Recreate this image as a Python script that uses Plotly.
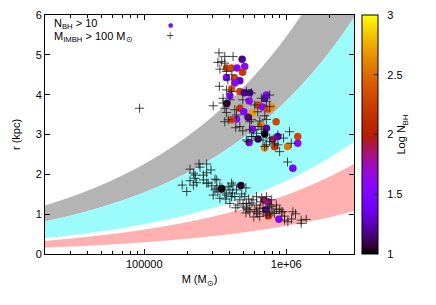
import math
import numpy as np
import plotly.graph_objects as go

# ---------------- data ----------------
# Models with N_BH > 10 : cluster mass (Msun), galactocentric radius (kpc), log N_BH
circ_M = [4.89e5, 3.79e5, 4.12e5, 4.50e5, 5.10e5, 4.92e5, 3.79e5, 4.34e5, 4.71e5, 4.34e5,
          4.12e5, 4.71e5, 5.06e5, 5.53e5, 7.25e5, 4.01e5, 5.48e5, 7.05e5, 3.81e5, 6.30e5,
          6.82e5, 7.43e5, 7.89e5, 4.71e5, 5.02e5, 5.78e5, 5.38e5, 4.46e5, 4.12e5, 8.48e5,
          6.68e5, 5.78e5, 7.25e5, 7.05e5, 6.33e5, 8.06e5, 8.73e5, 1.205e6, 1.205e6, 5.48e5,
          7.05e5, 8.28e5, 1.021e6, 1.113e6, 3.51e5, 4.79e5, 7.00e5, 7.46e5, 7.16e5, 7.50e5,
          8.88e5]
circ_r = [4.89, 4.67, 4.67, 4.67, 4.71, 4.56, 4.43, 4.41, 4.35, 4.29,
          4.15, 4.08, 4.05, 4.05, 3.99, 3.97, 3.84, 3.91, 3.78, 3.74,
          3.69, 3.64, 3.69, 3.66, 3.57, 3.54, 3.43, 3.39, 3.37, 3.32,
          3.23, 3.13, 3.16, 3.01, 2.89, 2.88, 2.95, 2.95, 2.78, 2.80,
          2.66, 2.69, 2.70, 2.15, 1.64, 1.72, 1.34, 1.31, 1.11, 0.96,
          0.87]
circ_logN = [1.2, 2.25, 2.3, 1.55, 1.6, 2.2, 1.5, 2.3, 1.3, 1.55,
             2.35, 2.25, 1.2, 1.25, 1.55, 1.5, 1.6, 1.3, 1.05, 2.25,
             1.55, 2.3, 2.65, 2.2, 1.5, 2.7, 1.2, 1.6, 2.25, 2.3,
             2.6, 1.55, 1.25, 1.0, 1.1, 1.9, 1.3, 2.3, 1.6, 1.55,
             2.65, 2.25, 2.55, 1.45, 1.0, 1.05, 1.9, 1.8, 1.3, 2.15,
             1.55]

# Models with M_IMBH > 100 Msun : cluster mass (Msun), radius (kpc)
cross_M = [9.27e4, 3.36e5, 3.69e5, 4.22e5, 3.51e5, 3.69e5, 3.30e5, 3.41e5, 3.79e5, 3.38e5,
           3.79e5, 4.12e5, 5.24e5, 5.69e5, 3.59e5, 4.01e5, 6.68e5, 7.25e5, 3.06e5, 3.69e5,
           4.34e5, 3.79e5, 7.05e5, 5.53e5, 7.25e5, 3.90e5, 4.71e5, 5.53e5, 6.33e5, 6.68e5,
           5.84e5, 5.24e5, 6.86e5, 7.64e5, 1.055e6, 8.73e5, 7.05e5, 8.28e5, 3.59e5, 4.46e5,
           6.00e5, 7.64e5, 7.64e5, 5.69e5, 6.17e5, 5.69e5, 5.38e5, 7.64e5, 8.73e5, 8.98e5,
           7.25e5, 1.021e6, 1.085e6, 4.14e5, 3.88e5, 6.30e5, 4.94e5, 4.41e5, 6.50e5, 9.57e5,
           3.69e5, 4.94e5,
           2.10e5, 2.47e5, 2.22e5, 2.75e5, 2.28e5, 2.10e5, 2.61e5, 2.82e5, 1.99e5, 2.34e5,
           3.24e5, 3.24e5, 3.41e5, 3.79e5, 4.01e5, 4.22e5, 4.34e5, 4.46e5, 4.01e5, 4.71e5,
           5.10e5, 5.24e5, 5.84e5, 6.00e5, 5.38e5, 7.25e5, 6.86e5, 7.64e5, 8.51e5, 8.06e5,
           7.25e5, 6.50e5, 9.24e5, 1.026e6, 1.113e6, 1.274e6, 1.382e6, 2.61e5, 3.15e5, 3.69e5,
           3.90e5, 4.12e5, 4.96e5, 5.53e5, 6.17e5, 6.50e5, 7.85e5, 8.98e5, 8.28e5, 9.46e5,
           1.162e6, 1.274e6, 5.53e5, 6.17e5, 5.24e5, 2.28e5, 2.22e5, 2.75e5, 3.15e5, 3.41e5,
           4.12e5, 2.99e5, 3.30e5, 3.53e5, 3.75e5, 4.18e5, 4.56e5, 4.86e5, 5.02e5, 5.44e5,
           5.72e5, 6.20e5, 6.61e5, 6.94e5, 7.41e5, 6.30e5, 5.91e5, 7.64e5, 8.55e5, 9.73e5,
           1.09e6, 2.43e5, 2.95e5, 1.85e5, 3.06e5, 4.41e5, 6.72e5, 5.20e5, 7.89e5, 9.73e5,
           2.75e5, 5.20e5]
cross_r = [3.66, 5.05, 4.96, 4.96, 4.83, 4.79, 4.81, 4.64, 4.58, 4.21,
           4.12, 4.08, 4.08, 4.04, 3.91, 3.87, 3.91, 3.83, 3.72, 3.66,
           3.62, 3.55, 3.47, 3.32, 3.38, 3.37, 3.20, 3.12, 3.20, 3.13,
           2.95, 2.86, 2.86, 2.91, 3.07, 2.99, 2.70, 2.78, 3.79, 3.49,
           3.74, 3.99, 3.70, 3.37, 3.03, 2.95, 2.82, 2.82, 2.74, 2.57,
           2.74, 2.31, 2.78, 4.50, 4.37, 3.57, 3.87, 3.17, 3.34, 2.91,
           3.32, 3.09,
           2.13, 2.18, 2.03, 2.04, 1.90, 1.84, 1.86, 1.78, 1.57, 1.79,
           1.86, 1.65, 1.40, 1.48, 1.61, 1.73, 1.44, 1.61, 1.27, 1.36,
           1.44, 1.27, 1.36, 1.11, 1.11, 1.44, 1.15, 1.23, 1.23, 1.06,
           0.98, 0.94, 1.06, 0.81, 1.06, 0.85, 0.87, 1.98, 1.61, 1.53,
           1.69, 1.44, 1.27, 1.23, 1.44, 1.15, 1.19, 1.11, 1.02, 1.06,
           1.01, 0.77, 1.06, 1.06, 1.15, 1.98, 1.73, 1.78, 1.88, 1.71,
           1.78, 1.71, 1.56, 1.66, 1.38, 1.53, 1.23, 1.51, 1.18, 1.38,
           1.28, 1.23, 1.31, 1.06, 1.16, 1.01, 0.93, 1.03, 1.13, 0.95,
           0.88, 2.26, 2.11, 1.73, 1.48, 1.16, 1.41, 1.03, 1.36, 0.85,
           2.26, 1.66]

# Shaded model bands: r = a * (M / M_ref)^b, [a, b] for (upper, lower) edges
band_names = ["gray", "cyan", "pink"]
band_upper = [[1.22, 0.383], [0.82, 0.395], [0.33, 0.384]]
band_lower = [[0.82, 0.395], [0.40, 0.390], [0.16, 0.380]]
band_colors = ["#b4b4b4", "#9cfcfc", "#ffb0b0"]
M_ref = 2e4

x_range = [2e4, 3e6]
y_range = [0, 6]
x_tickvals = [1e5, 1e6]
x_ticktext = ["100000", "1e+06"]
cb_tickvals = [1, 1.5, 2, 2.5, 3]
cb_ticktext = ["\u00a0\u00a01", "\u00a0\u00a01.5", "\u00a0\u00a02", "\u00a0\u00a02.5", "\u00a0\u00a03"]


# gnuplot default palette (rgbformulae 7,5,15)
def gp_color(t):
    r = math.sqrt(t)
    g = t ** 3
    b = max(0.0, math.sin(2 * math.pi * t))
    return "rgb(%d,%d,%d)" % (round(255 * r), round(255 * g), round(255 * b))


colorscale = [[i / 40, gp_color(i / 40)] for i in range(41)]

FONT = "Liberation Sans, Arial, sans-serif"
CROSS = "rgba(25,25,25,0.8)"
fig = go.Figure()

Mgrid = np.logspace(math.log10(x_range[0]), math.log10(x_range[1]), 300)
for name, up, lo, col in zip(band_names, band_upper, band_lower, band_colors):
    top = up[0] * (Mgrid / M_ref) ** up[1]
    bot = lo[0] * (Mgrid / M_ref) ** lo[1]
    fig.add_trace(go.Scatter(
        x=np.concatenate([Mgrid, Mgrid[::-1]]),
        y=np.concatenate([top, bot[::-1]]),
        fill="toself", fillcolor=col, mode="none", hoverinfo="skip",
        showlegend=False, name=name))

fig.add_trace(go.Scatter(
    x=circ_M, y=circ_r, mode="markers", showlegend=False,
    marker=dict(size=7.5, color=circ_logN, cmin=1, cmax=3, colorscale=colorscale,
                line=dict(width=0),
                colorbar=dict(
                    x=(362 - 45) / 309, xanchor="left", xpad=0, ypad=0,
                    y=0.5, yanchor="middle", len=1, lenmode="fraction",
                    thickness=16, thicknessmode="pixels",
                    outlinewidth=1, outlinecolor="black",
                    ticks="inside", ticklen=4, tickcolor="black",
                    tickvals=cb_tickvals, ticktext=cb_ticktext,
                    tickfont=dict(size=11, color="black", family=FONT),
                    title=dict(text="Log N<sub>BH</sub>", side="right",
                               font=dict(size=11, color="black", family=FONT)),
                ))))

fig.add_trace(go.Scatter(
    x=cross_M, y=cross_r, mode="markers", showlegend=False,
    marker=dict(symbol="cross-thin-open", size=6.5, color=CROSS,
                line=dict(width=1, color=CROSS))))

minor_vals = [k * 10 ** e for e in (4, 5, 6) for k in range(2, 10)]

fig.update_xaxes(type="log", range=[math.log10(x_range[0]), math.log10(x_range[1])],
                 showline=True, linecolor="black", linewidth=1, mirror="ticks",
                 ticks="inside", ticklen=5, tickcolor="black",
                 tickvals=x_tickvals, ticktext=x_ticktext,
                 minor=dict(ticks="inside", ticklen=3, tickcolor="black", tickvals=minor_vals),
                 showgrid=False, zeroline=False, automargin=False,
                 tickfont=dict(size=11, color="black", family=FONT),
                 title=dict(text="M (M<sub>⊙</sub>)", standoff=6,
                            font=dict(size=11, color="black", family=FONT)))
fig.update_yaxes(range=y_range, dtick=1, tick0=0,
                 showline=True, linecolor="black", linewidth=1, mirror="ticks",
                 ticks="inside", ticklen=5, tickcolor="black",
                 showgrid=False, zeroline=False, automargin=False,
                 tickfont=dict(size=11, color="black", family=FONT),
                 title=dict(text="r (kpc)", standoff=12,
                            font=dict(size=11, color="black", family=FONT)))


def px(xp):
    return (xp - 45) / 309


def py(yp):
    return (254 - yp) / 239


annos = [
    dict(text="N<sub>BH</sub> > 10", x=px(52), y=py(24), xanchor="left"),
    dict(text="M<sub>IMBH</sub> > 100 M<sub>⊙</sub>", x=px(52), y=py(37), xanchor="left"),
    dict(text="●", x=px(170), y=py(24), xanchor="center",
         font=dict(size=6, color="#7a12e6", family="DejaVu Sans")),
    dict(text="+", x=px(170), y=py(36), xanchor="center",
         font=dict(size=10, color="#444444", family="DejaVu Sans")),
]
for a in annos:
    a.setdefault("font", dict(size=11, color="black", family=FONT))
    fig.add_annotation(xref="paper", yref="paper", yanchor="middle", showarrow=False, **a)

fig.update_layout(width=436, height=305,
                  margin=dict(l=45, r=82, t=15, b=51, autoexpand=False),
                  plot_bgcolor="white", paper_bgcolor="white",
                  font=dict(family=FONT, size=11, color="black"))

fig.write_html("out.html", config={"displayModeBar": False},
               post_script="document.body.style.margin='0';document.body.style.overflow='hidden';")
